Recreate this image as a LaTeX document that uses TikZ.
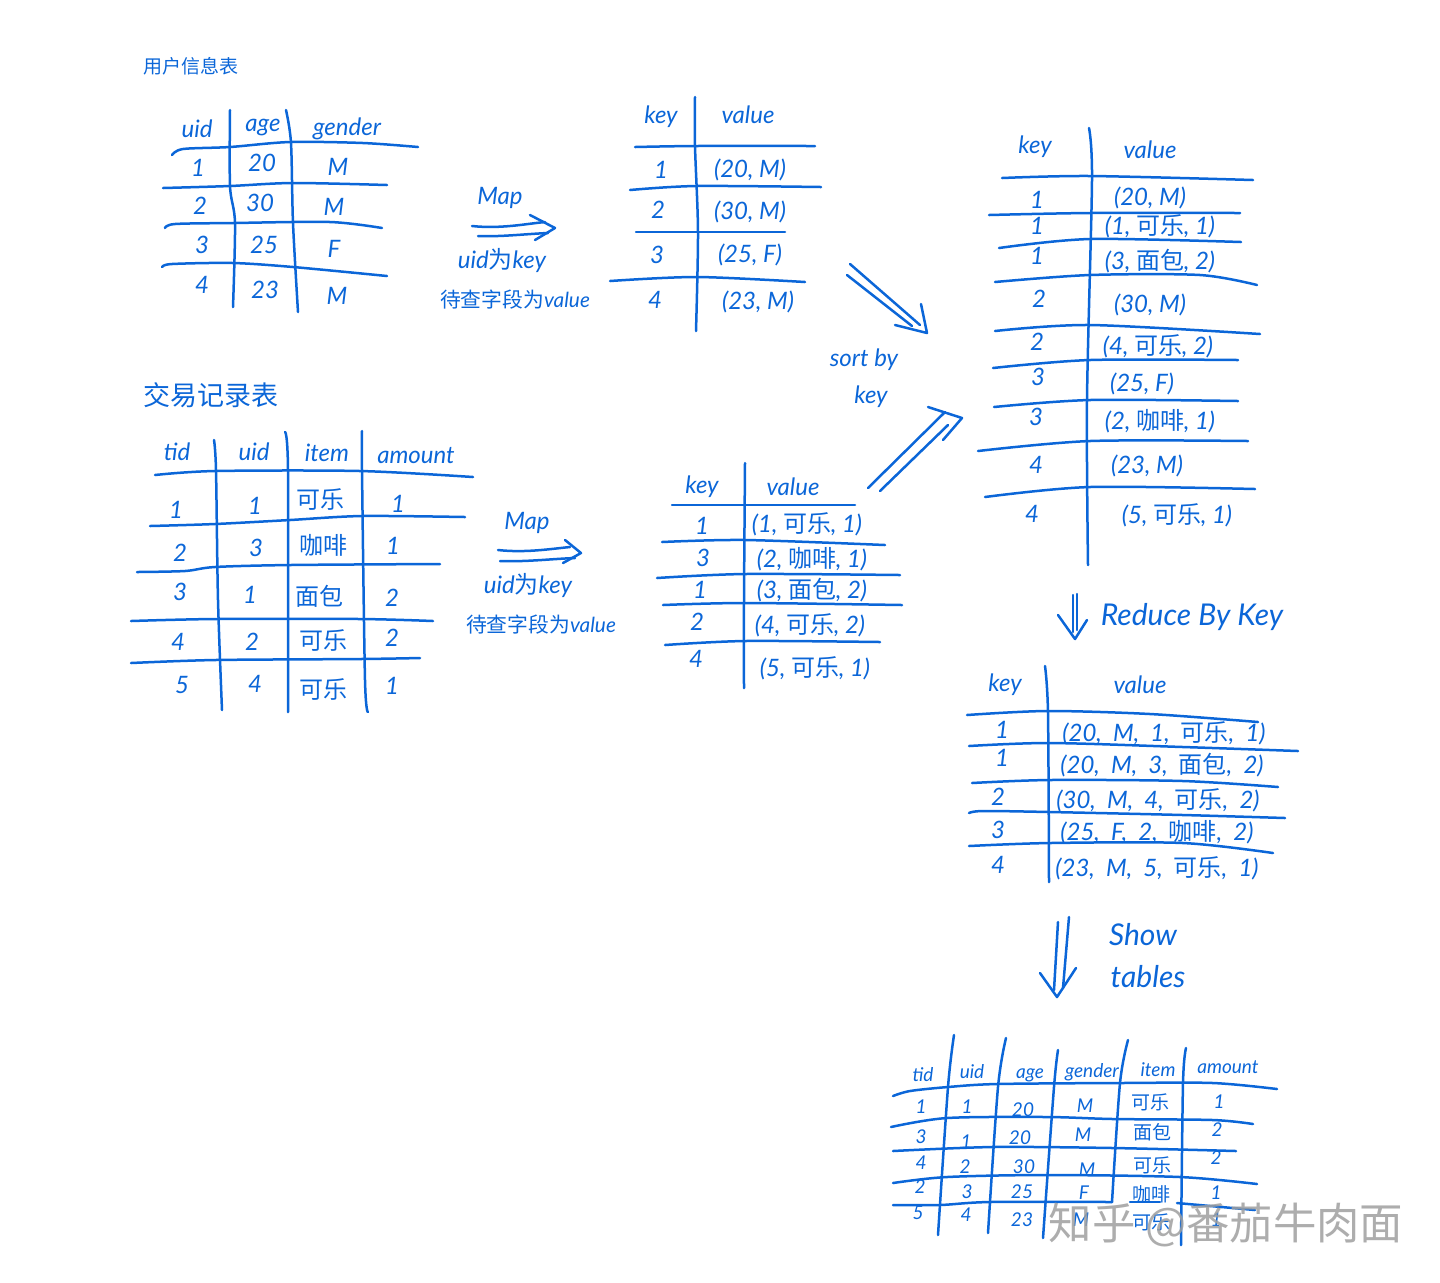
\documentclass[tikz,border=0pt]{standalone}
\usepackage{fontspec}
\setmainfont{Lato}
\newfontfamily\cjkfont{Noto Sans CJK SC}
\newcommand{\cn}[1]{{\cjkfont #1}}
\definecolor{penblue}{HTML}{0B66D8}
\tikzset{
  pen/.style={penblue, line width=1.25pt, line cap=round, line join=round},
  hand/.style={penblue, inner sep=0pt, font=\itshape\fontsize{12}{14}\selectfont},
  handsmall/.style={hand, font=\itshape\fontsize{9.5}{11}\selectfont},
  handmid/.style={hand, font=\itshape\fontsize{10.4}{12}\selectfont},
  handbig/.style={hand, font=\itshape\fontsize{15}{17}\selectfont},
  titlesmall/.style={hand, font=\fontsize{9.5}{11}\selectfont},
  titlebig/.style={hand, font=\fontsize{13.5}{15}\selectfont}
}
\begin{document}
\begin{tikzpicture}[x=0.5pt, y=-0.5pt]
    \useasboundingbox (0, 0) rectangle (1440, 1282);
    % user table
    \node[titlesmall] (usertitle) at (191, 66) {\cn{用户信息表}};
    \draw[pen] plot[smooth] coordinates {(172,155) (183,149) (230,147) (290,142) (363,143) (418,147)};
    \draw[pen] plot[smooth] coordinates {(163,188) (230,186) (293,183) (387,185)};
    \draw[pen] plot[smooth] coordinates {(165,228) (175,224) (233,223) (330,222) (382,228)};
    \draw[pen] plot[smooth] coordinates {(162,267) (172,264) (233,263) (293,267) (387,276)};
    \draw[pen] plot[smooth] coordinates {(230,110) (230,186) (235,223) (233,307)};
    \draw[pen] plot[smooth] coordinates {(286,110) (291,143) (293,223) (298,312)};
    \foreach \x/\y/\txt [count=\n] in {197/129/uid, 263/128/age, 347/129/gender,
        198/168/1, 262/163/20, 338/167/M, 200/206/2, 260/203/30, 334/207/M,
        202/245/3, 264/245/25, 334/249/F, 202/285/4, 265/290/23, 337/296/M}
        \node[hand] (user\n) at (\x, \y) {\txt};
    % first map
    \node[hand] (mapa) at (500, 198) {Map};
    \draw[pen] (472, 226) .. controls (500, 229) and (525, 224) .. (545, 222);
    \draw[pen] (478, 236) .. controls (500, 237) and (525, 234) .. (548, 233);
    \draw[pen] (530, 215) -- (555, 228) -- (535, 240);
    \node[hand] (keya) at (502, 260) {uid\cn{为}key};
    \node[handmid] (vala) at (515, 300) {\cn{待查字段为}value};
    % user key value
    \draw[pen] plot[smooth] coordinates {(635,147) (696,146) (815,146)};
    \draw[pen] plot[smooth] coordinates {(630,190) (696,186) (821,187)};
    \draw[pen] plot[smooth] coordinates {(636,232) (699,232) (785,232)};
    \draw[pen] plot[smooth] coordinates {(610,281) (697,277) (805,282)};
    \draw[pen] plot[smooth] coordinates {(695,97) (695,146) (698,232) (696,331)};
    \foreach \x/\y/\txt [count=\n] in {661/117/key, 748/115/value,
        661/170/1, 750/170/{(20, M)}, 658/210/2, 750/212/{(30, M)},
        657/255/3, 750/255/{(25, F)}, 655/300/4, 758/302/{(23, M)}}
        \node[hand] (kvu\n) at (\x, \y) {\txt};
    % trade table
    \node[titlebig] (tradetitle) at (211, 395) {\cn{交易记录表}};
    \draw[pen] plot[smooth] coordinates {(155,475) (215,471) (360,471) (473,477)};
    \draw[pen] plot[smooth] coordinates {(150,526) (215,524) (290,520) (362,516) (465,517)};
    \draw[pen] plot[smooth] coordinates {(137,572) (185,571) (215,567) (290,565) (440,564)};
    \draw[pen] plot[smooth] coordinates {(131,621) (215,619) (360,619) (433,621)};
    \draw[pen] plot[smooth] coordinates {(131,663) (215,660) (360,659) (420,658)};
    \draw[pen] plot[smooth] coordinates {(214,440) (216,470) (218,600) (222,710)};
    \draw[pen] plot[smooth] coordinates {(285,432) (288,470) (288,712)};
    \draw[pen] plot[smooth] coordinates {(362,431) (362,470) (365,680) (368,712)};
    \foreach \x/\y/\txt [count=\n] in {177/452/tid, 254/452/uid, 327/453/item, 416/456/amount,
        176/510/1, 255/506/1, 320/499/\cn{可乐}, 398/504/1,
        180/553/2, 256/548/3, 323/545/\cn{咖啡}, 393/546/1,
        180/592/3, 250/595/1, 319/596/\cn{面包}, 392/598/2,
        178/642/4, 252/642/2, 323/640/\cn{可乐}, 392/638/2,
        182/685/5, 255/684/4, 323/689/\cn{可乐}, 392/686/1}
        \node[hand] (trade\n) at (\x, \y) {\txt};
    % second map
    \node[hand] (mapb) at (527, 523) {Map};
    \draw[pen] (498, 550) .. controls (525, 553) and (550, 549) .. (570, 547);
    \draw[pen] (500, 561) .. controls (525, 562) and (550, 559) .. (575, 558);
    \draw[pen] (565, 540) -- (581, 553) -- (563, 563);
    \node[hand] (keyb) at (528, 585) {uid\cn{为}key};
    \node[handmid] (valb) at (541, 625) {\cn{待查字段为}value};
    % trade key value
    \draw[pen] plot[smooth] coordinates {(672,505) (745,505) (855,505)};
    \draw[pen] plot[smooth] coordinates {(662,542) (745,540) (885,545)};
    \draw[pen] plot[smooth] coordinates {(657,578) (745,574) (900,575)};
    \draw[pen] plot[smooth] coordinates {(663,605) (745,603) (902,605)};
    \draw[pen] plot[smooth] coordinates {(665,645) (745,641) (880,642)};
    \draw[pen] plot[smooth] coordinates {(745,463) (744,600) (744,688)};
    \foreach \x/\y/\txt [count=\n] in {702/487/key, 793/487/value,
        702/526/1, 807/524/{(1, \cn{可乐}, 1)}, 703/558/3, 812/559/{(2, \cn{咖啡}, 1)},
        700/590/1, 812/590/{(3, \cn{面包}, 2)}, 697/622/2, 810/625/{(4, \cn{可乐}, 2)},
        696/659/4, 815/668/{(5, \cn{可乐}, 1)}}
        \node[hand] (kvt\n) at (\x, \y) {\txt};
    % sort arrows
    \draw[pen] (850, 264) -- (920, 325);
    \draw[pen] (847, 275) -- (912, 326);
    \draw[pen] (921, 304) -- (927, 333) -- (895, 325);
    \node[hand] (sortby) at (864, 360) {sort by};
    \node[hand] (sortkey) at (871, 397) {key};
    \draw[pen] (868, 488) -- (945, 412);
    \draw[pen] (880, 491) -- (948, 425);
    \draw[pen] (928, 407) -- (962, 418) -- (943, 440);
    % sorted table
    \draw[pen] plot[smooth] coordinates {(1002,178) (1090,176) (1253,180)};
    \draw[pen] plot[smooth] coordinates {(989,215) (1090,213) (1240,213)};
    \draw[pen] plot[smooth] coordinates {(999,248) (1090,239) (1241,242)};
    \draw[pen] plot[smooth] coordinates {(995,282) (1090,275) (1200,275) (1257,285)};
    \draw[pen] plot[smooth] coordinates {(995,331) (1090,325) (1260,334)};
    \draw[pen] plot[smooth] coordinates {(993,368) (1090,360) (1238,360)};
    \draw[pen] plot[smooth] coordinates {(994,407) (1090,400) (1238,401)};
    \draw[pen] plot[smooth] coordinates {(978,451) (1090,441) (1248,441)};
    \draw[pen] plot[smooth] coordinates {(985,497) (1090,487) (1255,489)};
    \draw[pen] plot[smooth] coordinates {(1089,128) (1092,180) (1087,400) (1088,565)};
    \foreach \x/\y/\txt [count=\n] in {1035/147/key, 1150/150/value,
        1037/200/1, 1150/198/{(20, M)}, 1037/226/1, 1160/226/{(1, \cn{可乐}, 1)},
        1037/256/1, 1160/261/{(3, \cn{面包}, 2)}, 1039/299/2, 1150/305/{(30, M)},
        1037/342/2, 1158/346/{(4, \cn{可乐}, 2)}, 1038/377/3, 1142/384/{(25, F)},
        1036/417/3, 1160/421/{(2, \cn{咖啡}, 1)}, 1036/465/4, 1147/466/{(23, M)},
        1032/514/4, 1177/515/{(5, \cn{可乐}, 1)}}
        \node[hand] (sorted\n) at (\x, \y) {\txt};
    % reduce
    \draw[pen] (1073, 595) -- (1073, 632);
    \draw[pen] (1077, 594) -- (1077, 630);
    \draw[pen] (1058, 615) -- (1075, 639) -- (1087, 620);
    \node[handbig] (reduce) at (1192, 617) {Reduce By Key};
    % reduced table
    \draw[pen] plot[smooth] coordinates {(967,715) (1047,711) (1150,714) (1258,722)};
    \draw[pen] plot[smooth] coordinates {(969,746) (1050,743) (1183,747) (1298,751)};
    \draw[pen] plot[smooth] coordinates {(972,783) (1050,780) (1183,781) (1278,787)};
    \draw[pen] plot[smooth] coordinates {(969,813) (983,811) (1050,812) (1183,815) (1285,818)};
    \draw[pen] plot[smooth] coordinates {(969,846) (1050,843) (1183,843) (1273,853)};
    \draw[pen] plot[smooth] coordinates {(1045,666) (1048,713) (1049,882)};
    \foreach \x/\y/\txt [count=\n] in {1005/685/key, 1140/685/value,
        1002/730/1, 1164/733/{(20,~ M,~ 1,~ \cn{可乐},~ 1)},
        1002/758/1, 1162/765/{(20,~ M,~ 3,~ \cn{面包},~ 2)},
        998/797/2, 1158/800/{(30,~ M,~ 4,~ \cn{可乐},~ 2)},
        998/830/3, 1157/832/{(25,~ F,~ 2,~ \cn{咖啡},~ 2)},
        998/865/4, 1157/868/{(23,~ M,~ 5,~ \cn{可乐},~ 1)}}
        \node[hand] (reduced\n) at (\x, \y) {\txt};
    % show tables
    \draw[pen] (1058, 922) -- (1054, 990);
    \draw[pen] (1069, 917) -- (1063, 988);
    \draw[pen] (1040, 973) -- (1057, 997) -- (1076, 968);
    \node[handbig] (show) at (1143, 935) {Show};
    \node[handbig] (tables) at (1148, 977) {tables};
    % joined table
    \draw[pen] plot[smooth] coordinates {(893,1096) (910,1091) (948,1087) (997,1084) (1120,1083) (1213,1083) (1277,1089)};
    \draw[pen] plot[smooth] coordinates {(891,1127) (947,1118) (1047,1117) (1113,1119) (1213,1120) (1253,1124)};
    \draw[pen] plot[smooth] coordinates {(893,1151) (993,1147) (1113,1148) (1236,1151)};
    \draw[pen] plot[smooth] coordinates {(893,1183) (947,1177) (1047,1175) (1180,1177) (1257,1184)};
    \draw[pen] plot[smooth] coordinates {(893,1205) (940,1205) (990,1202) (1112,1202)};
    \draw[pen] (1130, 1202) -- (1160, 1202);
    \draw[pen] (1177, 1203) -- (1255, 1210);
    \draw[pen] plot[smooth] coordinates {(954,1035) (948,1087) (938,1235)};
    \draw[pen] plot[smooth] coordinates {(1006,1038) (998,1087) (988,1233)};
    \draw[pen] plot[smooth] coordinates {(1058,1050) (1054,1087) (1043,1238)};
    \draw[pen] plot[smooth] coordinates {(1128,1040) (1120,1083) (1112,1202)};
    \draw[pen] plot[smooth] coordinates {(1186,1048) (1183,1083) (1181,1245)};
    \foreach \x/\y/\txt [count=\n] in {923/1075/tid, 972/1072/uid, 1030/1075/age, 1092/1072/gender, 1158/1070/item, 1228/1067/amount,
        921/1107/1, 967/1107/1, 1023/1110/20, 1085/1106/M, 1150/1102/\cn{可乐}, 1219/1102/1,
        921/1137/3, 966/1142/1, 1020/1138/20, 1083/1135/M, 1152/1132/\cn{面包}, 1217/1130/2,
        921/1163/4, 965/1167/2, 1024/1167/30, 1087/1170/M, 1152/1165/\cn{可乐}, 1216/1158/2,
        920/1187/2, 967/1192/3, 1022/1192/25, 1084/1193/F, 1151/1194/\cn{咖啡}, 1216/1193/1,
        918/1213/5, 966/1215/4, 1022/1220/23, 1081/1220/M, 1151/1222/\cn{可乐}, 1216/1220/1}
        \node[handsmall] (joined\n) at (\x, \y) {\txt};
    % watermark
    \node[inner sep=0pt, gray!75, opacity=0.85, font=\fontsize{21.7}{26}\selectfont] (mark) at (1226, 1225) {\cn{知乎 @番茄牛肉面}};
\end{tikzpicture}
\end{document}
